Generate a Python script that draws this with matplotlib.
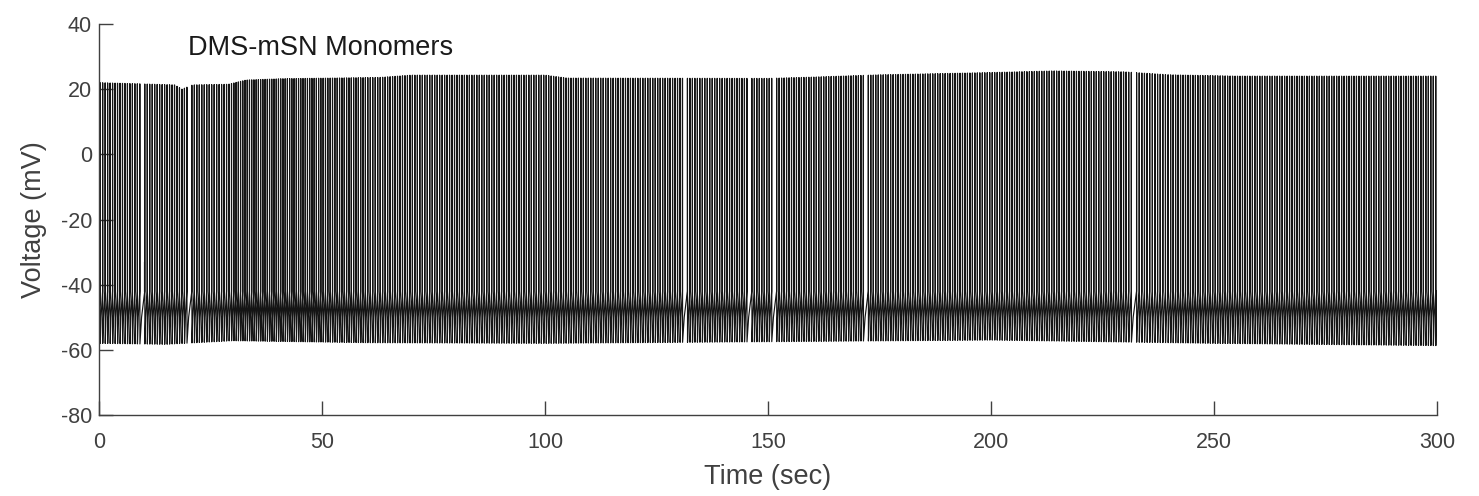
import numpy as np
import matplotlib
matplotlib.use("Agg")
import matplotlib.pyplot as plt

plt.rcParams['font.family'] = ['Liberation Sans', 'DejaVu Sans']
plt.rcParams['axes.unicode_minus'] = False

# ---- data ----
bin_edges = list(range(0, 301, 10))
spike_counts = [18, 18, 18, 20, 20, 19, 18, 18, 18, 18,
                18, 18, 18, 18, 18, 18, 18, 18, 18, 18,
                18, 18, 18, 17, 18, 18, 18, 18, 18, 18]
gap_times = [9.9, 20.4, 131.3, 146.0, 151.3, 171.8, 231.9]

peak_t = [0, 10, 17, 18.6, 21, 29, 33, 41, 63, 70, 100, 105, 150, 160, 175, 200, 214, 230, 240, 255, 300]
peak_v = [22.0, 21.6, 21.3, 20.0, 21.3, 21.5, 22.8, 23.2, 23.6, 24.3, 24.3, 23.4, 23.3, 23.7, 24.4,
          25.1, 25.6, 25.3, 24.4, 24.0, 24.0]
trough_t = [0, 15, 30, 60, 100, 150, 200, 250, 300]
trough_v = [-58, -58.3, -57.2, -57.8, -58, -57.5, -57, -58, -58.7]
rest_v = -50.0
prespike_v = -42.0
partial_t = [10.0, 300.0]
partial_v = [-33.0, -27.5]

xticks = [0, 50, 100, 150, 200, 250, 300]
yticks = [-80, -60, -40, -20, 0, 20, 40]

# ---- build trace ----
spike_t = []
for a, b, n in zip(bin_edges[:-1], bin_edges[1:], spike_counts):
    spike_t.extend(np.linspace(a, b, n, endpoint=False) + (b - a) / n / 2)
spike_t = np.array(spike_t)
keep = np.ones(len(spike_t), bool)
for g in gap_times:
    keep[np.argmin(np.abs(spike_t - g))] = False
spike_t = spike_t[keep]

xs, ys = [0.0], [rest_v]
for i, t in enumerate(spike_t):
    nxt = spike_t[i + 1] if i + 1 < len(spike_t) else 300.0
    isi = nxt - t
    xs += [t - 0.01, t, t + 0.02, t + 0.35 * isi, nxt - 0.03]
    ys += [prespike_v, np.interp(t, peak_t, peak_v), np.interp(t, trough_t, trough_v),
           rest_v, prespike_v]

fig = plt.figure(figsize=(14.79, 4.96), dpi=100)
ax = fig.add_axes([0.0669, 0.1633, 0.9047, 0.7883])
ax.plot(xs, ys, color='#151515', lw=0.85)
for pt, pv in zip(partial_t, partial_v):
    ax.plot([pt, pt], [prespike_v, pv], color='#151515', lw=0.85)

ax.set_xlim(0, 300)
ax.set_ylim(-80, 40)
ax.set_xticks(xticks)
ax.set_yticks(yticks)
for s in ['top', 'right']:
    ax.spines[s].set_visible(False)
for s in ['left', 'bottom']:
    ax.spines[s].set_color('#404040')
    ax.spines[s].set_linewidth(1.0)
ax.tick_params(direction='in', length=10, width=1, colors='#404040', labelsize=15.5,
               labelcolor='#404040')
ax.tick_params(axis='x', pad=12)
ax.tick_params(axis='y', pad=5)
ax.set_xlabel('Time (sec)', fontsize=19.5, color='#404040', labelpad=8)
ax.set_ylabel('Voltage (mV)', fontsize=19.5, color='#404040', labelpad=10)
ax.text(20, 32.6, 'DMS-mSN Monomers', fontsize=19.5, color='#1a1a1a', va='center', ha='left')

fig.savefig('out.png', dpi=100)
